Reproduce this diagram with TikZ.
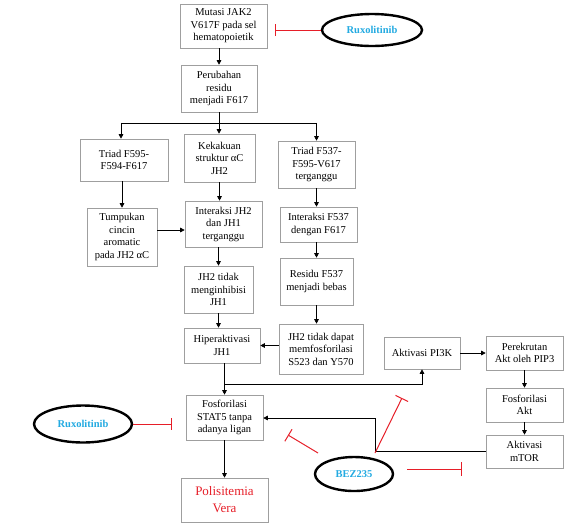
\documentclass[tikz,border=0pt]{standalone}
\usepackage{fontspec}
\setmainfont{Liberation Serif}
\usetikzlibrary{positioning, calc, arrows.meta, shapes.geometric}

\definecolor{birumuda}{RGB}{35,170,225}
\definecolor{merah}{RGB}{230,30,40}

\tikzset{
  kotak/.style 2 args={draw=gray!75, line width=0.6pt, align=center,
    font=\fontsize{10.5}{12.5}\selectfont, inner sep=1pt,
    minimum width=#1pt, minimum height=#2pt},
  obat/.style 2 args={ellipse, draw=black, line width=2.4pt, inner sep=0pt,
    font=\fontsize{10.5}{12}\selectfont\bfseries, text=birumuda,
    minimum width=#1pt, minimum height=#2pt},
  panah/.style={-{Triangle[length=4.5pt,width=4.5pt]}, line width=0.6pt},
  hambat/.style={-{Bar[width=12pt]}, merah, line width=0.6pt},
  hambatbez/.style={-{Bar[width=14pt]}, merah, line width=1pt},
}

\begin{document}
\begin{tikzpicture}[x=1pt,y=1pt]
        \useasboundingbox (0,0) rectangle (572,-523);

        % Main path of the mutation
        \node[kotak={87}{44}] (mutasi) at (223.5,-26) {Mutasi JAK2\\V617F pada sel\\hematopoietik};
        \node[kotak={76}{47}] (perubahan) at (219,-88.5) {Perubahan\\residu\\menjadi F617};
        \node[obat={100}{32}] (rux1) at (372,-30) {Ruxolitinib};

        % Three branches
        \node[kotak={88}{42}] (triadA) at (124,-160) {Triad F595-\\F594-F617};
        \node[kotak={71}{48}] (kekakuan) at (219.5,-158) {Kekakuan\\struktur αC\\JH2};
        \node[kotak={77}{47}] (triadB) at (316.5,-164.5) {Triad F537-\\F595-V617\\terganggu};
        \node[kotak={70}{58}] (tumpukan) at (122,-237) {Tumpukan\\cincin\\aromatic\\pada JH2 αC};
        \node[kotak={77}{46}] (interaksiA) at (223.5,-224) {Interaksi JH2\\dan JH1\\terganggu};
        \node[kotak={77}{35}] (interaksiB) at (318.5,-224.5) {Interaksi F537\\dengan F617};
        \node[kotak={69}{47}] (tidakinhib) at (218.5,-289.5) {JH2 tidak\\menginhibisi\\JH1};
        \node[kotak={73}{47}] (residu) at (316.5,-281.5) {Residu F537\\menjadi bebas};
        \node[kotak={76}{35}] (hiper) at (222,-345.5) {Hiperaktivasi\\JH1};
        \node[kotak={84}{50}] (tidakfosfo) at (321,-349) {JH2 tidak dapat\\memfosforilasi\\S523 dan Y570};

        % STAT5 and outcome
        \node[kotak={77}{45}] (stat) at (224.5,-417.5) {Fosforilasi\\STAT5 tanpa\\adanya ligan};
        \node[kotak={87}{44}, font=\fontsize{13}{17}\selectfont, text=merah] (pv) at (224.5,-500) {Polisitemia\\Vera};
        \node[obat={98}{37}] (rux2) at (83,-424) {Ruxolitinib};

        % PI3K side path
        \node[kotak={76}{32}] (pi3k) at (422,-353) {Aktivasi PI3K};
        \node[kotak={77}{34}] (rekrut) at (524.5,-353) {Perekrutan\\Akt oleh PIP3};
        \node[kotak={77}{34}] (aktfos) at (524.5,-405) {Fosforilasi\\Akt};
        \node[kotak={77}{33}] (mtor) at (524.5,-451.5) {Aktivasi\\mTOR};
        \node[obat={78}{34}] (bez) at (354,-474) {BEZ235};

        % Arrows
        \draw[panah] (perubahan.north |- mutasi.south) -- (perubahan.north);
        \draw[line width=0.6pt] (perubahan.south) -- ++(0,-10.5) coordinate (cabang);
        \draw[line width=0.6pt] (cabang -| 121,0) -- (cabang -| triadB);
        \draw[panah] (cabang -| 121,0) -- (121,0 |- triadA.north);
        \draw[panah] (cabang) -- (cabang |- kekakuan.north);
        \draw[panah] (cabang -| triadB) -- (triadB.north);
        \draw[panah] (triadA.south -| tumpukan) -- (tumpukan.north);
        \draw[panah] (kekakuan.south) -- (kekakuan.south |- interaksiA.north);
        \draw[panah] (triadB.south) -- (triadB.south |- interaksiB.north);
        \draw[panah] ([yshift=7pt]tumpukan.east) -- ([yshift=7pt]tumpukan.east -| interaksiA.west);
        \draw[panah] (interaksiA.south -| tidakinhib) -- (tidakinhib.north);
        \draw[panah] (interaksiB.south -| residu) -- (residu.north);
        \draw[panah] (tidakinhib.south) -- (tidakinhib.south |- hiper.north);
        \draw[panah] (residu.south) -- (residu.south |- tidakfosfo.north);
        \draw[panah] (tidakfosfo.west |- hiper) -- (hiper.east);
        \draw[panah] (hiper.south -| stat) -- (stat.north);
        \coordinate (cabang2) at ($(hiper.south -| stat)+(0,-21)$);
        \draw[panah] (cabang2) -| (pi3k.south);
        \draw[panah] (pi3k) -- (rekrut);
        \draw[panah] (rekrut) -- (aktfos);
        \draw[panah] (aktfos) -- (mtor);
        \coordinate (belok) at (375,-418);
        \draw[panah] (mtor.west) -| (belok) -- (belok -| stat.east);
        \draw[panah] (stat) -- (pv);

        % Inhibitors
        \draw[hambat] (rux1.west) -- ([xshift=8pt]mutasi.east |- rux1.west);
        \draw[hambat] (rux2.east) -- ([xshift=-14pt]stat.west |- rux2.east);
        \coordinate (bezA) at (375,-453);
        \coordinate (hPI3K) at (402,-398);
        \coordinate (bezB) at (318,-453);
        \coordinate (hSTAT) at (288,-435);
        \coordinate (bezC) at (407,-469);
        \coordinate (hMTOR) at (462,-469);
        \draw[hambatbez] (bezA) -- (hPI3K);
        \draw[hambatbez] (bezB) -- (hSTAT);
        \draw[hambatbez] (bezC) -- (hMTOR);
    \end{tikzpicture}
\end{document}
